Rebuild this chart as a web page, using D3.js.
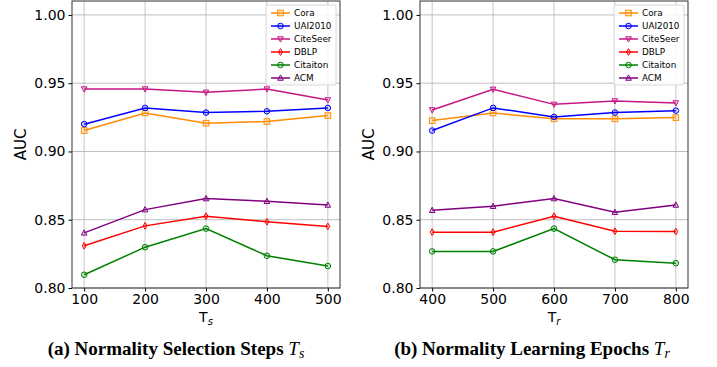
<!DOCTYPE html>
<html>
<head>
<meta charset="utf-8">
<script src="https://cdn.jsdelivr.net/npm/d3@7"></script>
<style>
  body { margin: 0; background: #fff; }
  svg text { font-family: "DejaVu Sans", sans-serif; }
</style>
</head>
<body>
<div id="chart"></div>
<script>
// data
const seriesNames = ["Cora", "UAI2010", "CiteSeer", "DBLP", "Citaiton", "ACM"];
const colors = ["#ff8c00", "#0000ff", "#c71585", "#ff0000", "#008000", "#800080"];
const markers = ["square", "circle", "tridown", "diamond", "circle2", "triup"];

const tsSteps = [100, 200, 300, 400, 500];
const tsCora = [0.9153, 0.9282, 0.9207, 0.9219, 0.9263];
const tsUAI = [0.9200, 0.9319, 0.9285, 0.9294, 0.9319];
const tsCiteSeer = [0.9457, 0.9457, 0.9433, 0.9457, 0.9377];
const tsDBLP = [0.8309, 0.8455, 0.8526, 0.8485, 0.8451];
const tsCitation = [0.8097, 0.8299, 0.8435, 0.8236, 0.8161];
const tsACM = [0.8404, 0.8574, 0.8655, 0.8635, 0.8608];

const trEpochs = [400, 500, 600, 700, 800];
const trCora = [0.9226, 0.9282, 0.9239, 0.9239, 0.9248];
const trUAI = [0.9153, 0.9319, 0.9253, 0.9285, 0.9299];
const trCiteSeer = [0.9304, 0.9455, 0.9345, 0.9370, 0.9355];
const trDBLP = [0.8409, 0.8409, 0.8526, 0.8416, 0.8414];
const trCitation = [0.8268, 0.8268, 0.8435, 0.8207, 0.8182];
const trACM = [0.8569, 0.8599, 0.8655, 0.8555, 0.8608];

const yTicks = [0.80, 0.85, 0.90, 0.95, 1.00];

const svg = d3.select("#chart").append("svg")
  .attr("width", 717).attr("height", 367);

function drawMarker(g, type, color) {
  const s = 2.8;
  let p;
  if (type === "square") p = g.append("rect").attr("x", -s).attr("y", -s).attr("width", 2 * s).attr("height", 2 * s);
  else if (type === "circle" || type === "circle2") p = g.append("circle").attr("r", s);
  else if (type === "tridown") p = g.append("path").attr("d", `M${-s},${-s * 0.8}L${s},${-s * 0.8}L0,${s * 1.1}Z`);
  else if (type === "triup") p = g.append("path").attr("d", `M${-s},${s * 0.8}L${s},${s * 0.8}L0,${-s * 1.1}Z`);
  else if (type === "diamond") p = g.append("path").attr("d", `M0,${-s * 1.2}L${s * 0.7},0L0,${s * 1.2}L${-s * 0.7},0Z`);
  p.attr("fill", color).attr("fill-opacity", 0.15).attr("stroke", color).attr("stroke-width", 1);
}

function panel(left, right, xs, series, xName, sub, caption, capX) {
  const top = 1, bottom = 288;
  const x = d3.scaleLinear().domain([xs[0] - 20, xs[xs.length - 1] + 20]).range([left, right]);
  const y = d3.scaleLinear().domain([0.80, 1.0102]).range([bottom, top]);
  const g = svg.append("g");

  // grid
  g.append("g").selectAll("line").data(xs).join("line")
    .attr("x1", d => x(d)).attr("x2", d => x(d)).attr("y1", top).attr("y2", bottom)
    .attr("stroke", "#d0d0d0").attr("stroke-width", 1.2);
  g.append("g").selectAll("line").data(yTicks).join("line")
    .attr("x1", left).attr("x2", right).attr("y1", d => y(d)).attr("y2", d => y(d))
    .attr("stroke", "#b8b8b8").attr("stroke-width", 0.9);

  // axes
  const xa = g.append("g").attr("transform", `translate(0,${bottom})`)
    .call(d3.axisBottom(x).tickValues(xs).tickSize(3.5).tickPadding(3).tickFormat(d3.format("d")));
  const ya = g.append("g").attr("transform", `translate(${left},0)`)
    .call(d3.axisLeft(y).tickValues(yTicks).tickSize(3.5).tickPadding(3).tickFormat(d3.format(".2f")));
  [xa, ya].forEach(a => {
    a.select(".domain").remove();
    a.selectAll("text").attr("font-size", 14).attr("fill", "#000");
    a.selectAll("line").attr("stroke", "#000");
  });

  // lines
  series.forEach((vals, i) => {
    const pts = xs.map((d, j) => [d, vals[j]]);
    g.append("path").datum(pts)
      .attr("d", d3.line().x(d => x(d[0])).y(d => y(d[1])))
      .attr("fill", "none").attr("stroke", colors[i]).attr("stroke-width", 1.5);
    pts.forEach(d => {
      const m = g.append("g").attr("transform", `translate(${x(d[0])},${y(d[1])})`);
      drawMarker(m, markers[i], colors[i]);
    });
  });

  // frame
  g.append("rect").attr("x", left).attr("y", top).attr("width", right - left).attr("height", bottom - top)
    .attr("fill", "none").attr("stroke", "#333").attr("stroke-width", 1);

  // labels
  g.append("text").attr("transform", `translate(${left - 46},${(top + bottom) / 2}) rotate(-90)`)
    .attr("text-anchor", "middle").attr("font-size", 15).text("AUC");
  const xl = g.append("text").attr("x", (left + right) / 2).attr("y", 322)
    .attr("text-anchor", "middle").attr("font-size", 14);
  xl.append("tspan").text(xName);
  xl.append("tspan").attr("font-size", 10).attr("font-style", "italic").attr("dy", 3).text(sub);

  const cap = g.append("text").attr("x", capX).attr("y", 355).attr("text-anchor", "middle")
    .style("font-family", "'Liberation Serif', serif").attr("font-weight", "bold").attr("font-size", 19);
  cap.append("tspan").text(caption + " ");
  cap.append("tspan").attr("font-style", "italic").attr("font-weight", "normal").text("T");
  cap.append("tspan").attr("font-style", "italic").attr("font-weight", "normal").attr("font-size", 14).attr("dy", 3).text(sub);

  // legend
  const lx = right - 74, ly = 5;
  const lg = g.append("g");
  lg.append("rect").attr("x", lx).attr("y", ly).attr("width", 70).attr("height", 80).attr("rx", 2)
    .attr("fill", "#fff").attr("fill-opacity", 0.85).attr("stroke", "#d8d8d8");
  seriesNames.forEach((n, i) => {
    const yy = ly + 8 + i * 13;
    lg.append("line").attr("x1", lx + 5).attr("x2", lx + 24).attr("y1", yy).attr("y2", yy)
      .attr("stroke", colors[i]).attr("stroke-width", 1.5);
    const m = lg.append("g").attr("transform", `translate(${lx + 14.5},${yy})`);
    drawMarker(m, markers[i], colors[i]);
    lg.append("text").attr("x", lx + 28).attr("y", yy + 3.3).attr("font-size", 8.8).text(n);
  });
}

panel(72, 340, tsSteps, [tsCora, tsUAI, tsCiteSeer, tsDBLP, tsCitation, tsACM],
  "T", "s", "(a) Normality Selection Steps", 176);
panel(420, 688, trEpochs, [trCora, trUAI, trCiteSeer, trDBLP, trCitation, trACM],
  "T", "r", "(b) Normality Learning Epochs", 532);
</script>
</body>
</html>
